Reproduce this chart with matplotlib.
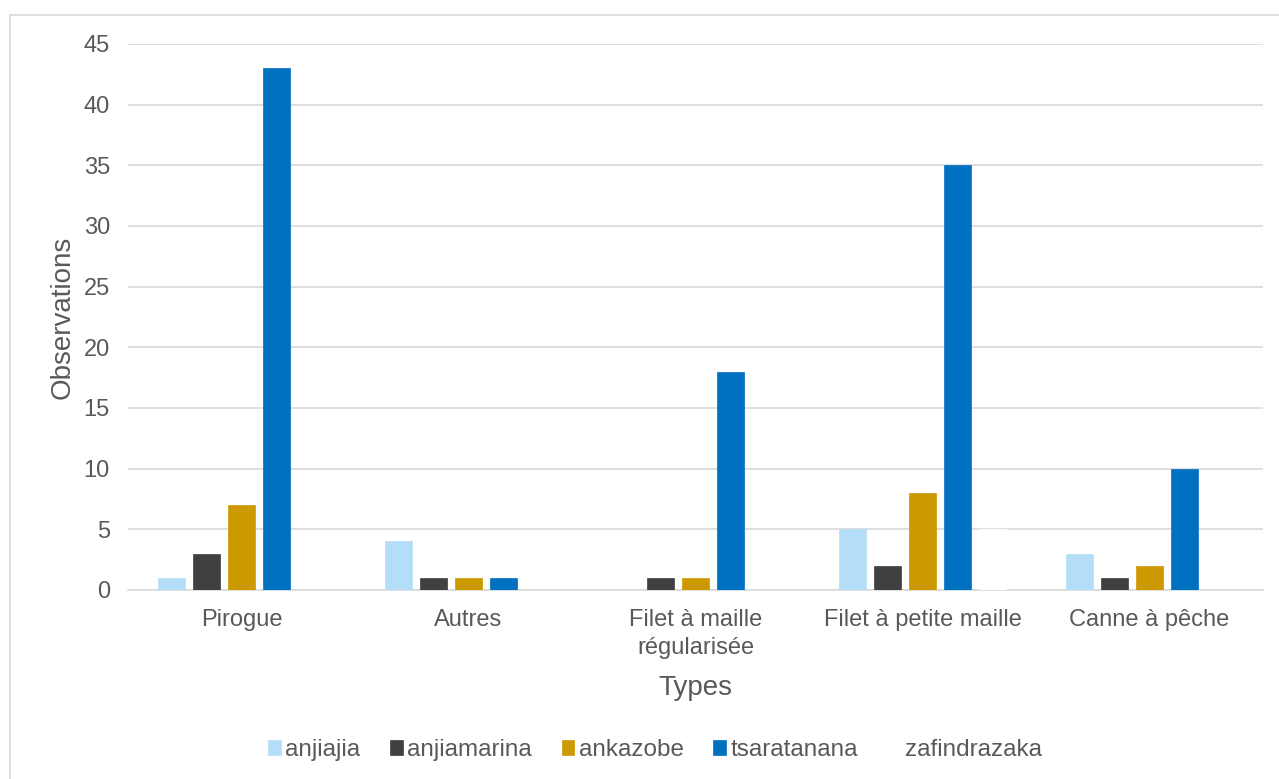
import matplotlib
matplotlib.use("Agg")
import matplotlib.pyplot as plt
import numpy as np
from matplotlib.patches import Rectangle

plt.rcParams['font.family'] = ['Liberation Sans', 'DejaVu Sans']

categories = ["Pirogue", "Autres", "Filet à maille\nrégularisée", "Filet à petite maille", "Canne à pêche"]
series_names = ["anjiajia", "anjiamarina", "ankazobe", "tsaratanana", "zafindrazaka"]
anjiajia = [1, 4, 0, 5, 3]
anjiamarina = [3, 1, 1, 2, 1]
ankazobe = [7, 1, 1, 8, 2]
tsaratanana = [43, 1, 18, 35, 10]
zafindrazaka = [0, 0, 0, 5, 0]
yticks = [0, 5, 10, 15, 20, 25, 30, 35, 40, 45]

series = [anjiajia, anjiamarina, ankazobe, tsaratanana, zafindrazaka]
colors = ["#B4DEF7", "#404040", "#CC9900", "#0070C0", "#FFFFFF"]
text_color = "#595959"
grid_color = "#D9D9D9"

fig = plt.figure(figsize=(12.79, 7.79), dpi=100)
fig.patches.append(Rectangle((10 / 1279, -0.1), 1.2, 1 - 15 / 779 + 0.1,
                             transform=fig.transFigure, fill=False,
                             edgecolor=grid_color, linewidth=1.2, zorder=0))

ax = fig.add_axes([128 / 1279, 1 - 590 / 779, (1263 - 128) / 1279, (590 - 44) / 779])

x = np.arange(len(categories))
pitch = 35 / 227
width = 27 / 227
for i, (name, vals, col) in enumerate(zip(series_names, series, colors)):
    ax.bar(x + (i - 2) * pitch, vals, width, color=col, label=name, zorder=3,
           edgecolor=col, linewidth=0.5)

ax.set_xlim(-0.5, len(categories) - 0.5)
ax.set_ylim(0, 45)
ax.set_yticks(yticks)
ax.set_xticks(x)
ax.set_xticklabels(categories, linespacing=1.3)
ax.yaxis.grid(True, color=grid_color, linewidth=1.2, zorder=0)
ax.set_axisbelow(True)
for s in ["left", "right", "top"]:
    ax.spines[s].set_visible(False)
ax.spines["bottom"].set_color(grid_color)
ax.spines["bottom"].set_linewidth(1.2)
ax.tick_params(axis="both", length=0, labelsize=17, colors=text_color)
ax.tick_params(axis="y", pad=13)
ax.tick_params(axis="x", pad=14)

ax.set_ylabel("Observations", fontsize=20, color=text_color, labelpad=6)
ax.set_xlabel("Types", fontsize=20, color=text_color, labelpad=12)

leg = fig.legend(loc="center", bbox_to_anchor=(0.512, 1 - 750 / 779), ncol=5,
                 frameon=False, fontsize=17.5, handlelength=0.53, handleheight=0.53,
                 handletextpad=0.17, columnspacing=1.23)
for t in leg.get_texts():
    t.set_color(text_color)

fig.savefig("out.png", dpi=100)
